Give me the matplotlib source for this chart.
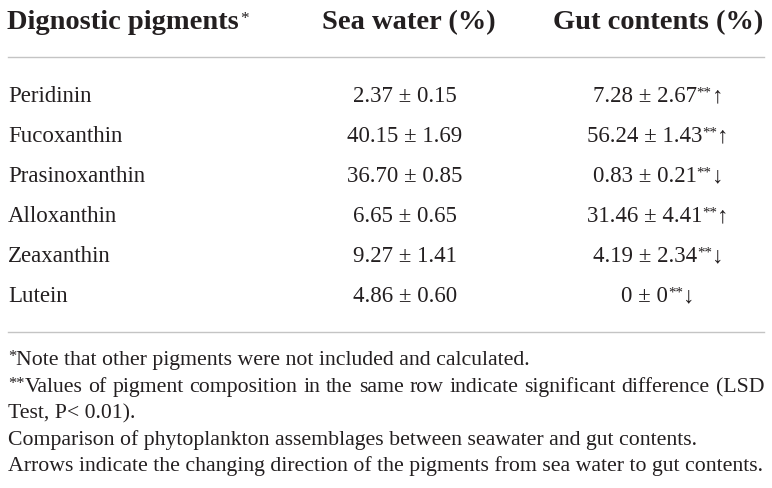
import matplotlib
matplotlib.use("Agg")
import matplotlib.pyplot as plt

plt.rcParams['font.family'] = ['Liberation Serif', 'DejaVu Serif']

# table content
headers = ["Dignostic pigments", "Sea water (%)", "Gut contents (%)"]
pigments = ["Peridinin", "Fucoxanthin", "Prasinoxanthin", "Alloxanthin", "Zeaxanthin", "Lutein"]
sea_mean = [2.37, 40.15, 36.70, 6.65, 9.27, 4.86]
sea_sd = [0.15, 1.69, 0.85, 0.65, 1.41, 0.60]
gut_mean = [7.28, 56.24, 0.83, 31.46, 4.19, 0]
gut_sd = [2.67, 1.43, 0.21, 4.41, 2.34, 0]
direction = ["↑", "↑", "↓", "↑", "↓", "↓"]
notes = [
    "*Note that other pigments were not included and calculated.",
    "**Values of pigment composition in the same row indicate significant difference (LSD",
    "Test, P< 0.01).",
    "Comparison of phytoplankton assemblages between seawater and gut contents.",
    "Arrows indicate the changing direction of the pigments from sea water to gut contents.",
]

TXT = "#231f20"
RULE = "#c4c4c4"

fig = plt.figure(figsize=(7.72, 4.89), dpi=100)
ax = fig.add_axes([0, 0, 1, 1])
ax.set_xlim(0, 772)
ax.set_ylim(489, 0)
ax.axis("off")
renderer = fig.canvas.get_renderer()


def fmt(v):
    return "0" if v == 0 else f"{v:.2f}"


def make(parts, y):
    # parts: (text, size, raise_px, weight) -> text objects and their widths
    objs, widths = [], []
    for s, size, dy, w in parts:
        t = ax.text(0, y - dy, s, fontsize=size, fontweight=w, color=TXT,
                    va="baseline", ha="left")
        objs.append(t)
        widths.append(t.get_window_extent(renderer).width)
    return objs, widths


def pieces(x, y, parts, align="center"):
    objs, widths = make(parts, y)
    cur = x - sum(widths) / 2 if align == "center" else x
    for t, wd in zip(objs, widths):
        t.set_x(cur)
        cur += wd


def star_split(word, size):
    # leading asterisks drawn small and raised
    n = len(word) - len(word.lstrip("*"))
    parts = []
    if n:
        parts.append(("*" * n, size * 0.75, 4, "normal"))
    parts.append((word[n:], size, 0, "normal"))
    return parts


def justify(x0, x1, y, s, size):
    groups = [make(star_split(w, size), y) for w in s.split(" ")]
    total = sum(sum(wd) for _, wd in groups)
    gap = (x1 - x0 - total) / (len(groups) - 1)
    cur = x0
    for objs, widths in groups:
        for t, wd in zip(objs, widths):
            t.set_x(cur)
            cur += wd
        cur += gap


HS, RS, NS = 20.5, 16.5, 15.7
LEFT, RIGHT = 8, 764
COL_SEA, COL_GUT = 407, 658

# header
pieces(LEFT - 1, 29, [(headers[0], HS, 0, "bold"), (" ", HS * 0.2, 0, "normal"),
                      ("*", HS * 0.6, 6, "normal")], align="left")
ax.text(COL_SEA + 2, 29, headers[1], fontsize=HS, fontweight="bold", color=TXT, ha="center", va="baseline")
ax.text(COL_GUT, 29, headers[2], fontsize=HS, fontweight="bold", color=TXT, ha="center", va="baseline")
ax.plot([LEFT, RIGHT], [58, 58], color=RULE, lw=1.0)

# rows
for i, name in enumerate(pigments):
    y = 102 + i * 40
    ax.text(LEFT, y, name, fontsize=RS, color=TXT, ha="left", va="baseline")
    ax.text(COL_SEA - 2, y, f"{fmt(sea_mean[i])} ± {fmt(sea_sd[i])}", fontsize=RS, color=TXT,
            ha="center", va="baseline")
    pieces(COL_GUT, y, [(f"{fmt(gut_mean[i])} ± {fmt(gut_sd[i])}", RS, 0, "normal"),
                        ("**", RS * 0.65, 5, "normal"),
                        (direction[i], RS, 0, "normal")])

ax.plot([LEFT, RIGHT], [333, 333], color=RULE, lw=1.0)

# footnotes
note_y = [365, 392, 418, 445, 471]
pieces(LEFT, note_y[0], star_split(notes[0], NS), align="left")
justify(LEFT, RIGHT, note_y[1], notes[1], NS)
for s, y in zip(notes[2:], note_y[2:]):
    ax.text(LEFT, y, s, fontsize=NS, color=TXT, ha="left", va="baseline")

fig.savefig("out.png", dpi=100)
